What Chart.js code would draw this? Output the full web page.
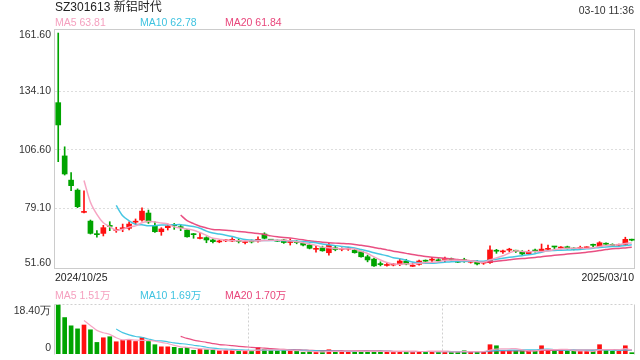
<!DOCTYPE html>
<html><head><meta charset="utf-8">
<script src="https://cdn.jsdelivr.net/npm/chart.js@4.4.1/dist/chart.umd.min.js"></script>
<style>
body{margin:0;width:640px;height:360px;overflow:hidden;background:#fff;font-family:"Liberation Sans",Arial,"Noto Sans CJK SC",sans-serif;}
.t{position:absolute;white-space:nowrap;font-size:10.5px;line-height:12px;z-index:2;}
canvas{position:absolute;left:0;}
</style></head><body>
<canvas id="k" width="640" height="282" style="top:0"></canvas>
<canvas id="v" width="640" height="70" style="top:290px"></canvas>
<div class="t" style="left:55px;top:0px;font-size:12px;line-height:15px;color:#222">SZ301613 新铝时代</div>
<div class="t" style="right:6px;top:4px;color:#333">03-10 11:36</div>
<div class="t" style="left:55px;top:16px;color:#f5a0bf">MA5 63.81</div>
<div class="t" style="left:140px;top:16px;color:#3fc3e0">MA10 62.78</div>
<div class="t" style="left:225px;top:16px;color:#e8467b">MA20 61.84</div>
<div class="t" style="left:55px;top:271px;color:#222">2024/10/25</div>
<div class="t" style="right:6px;top:271px;color:#222">2025/03/10</div>
<div class="t" style="left:55px;top:289px;color:#f5a0bf">MA5 1.51万</div>
<div class="t" style="left:140px;top:289px;color:#3fc3e0">MA10 1.69万</div>
<div class="t" style="left:225px;top:289px;color:#e8467b">MA20 1.70万</div>
<script>
// ---- data ----
const openP = [128.8,103.7,92.3,87.6,77.1,73.0,67.0,67.2,70.9,68.6,69.4,69.6,72.5,73.5,76.8,70.8,68.0,69.9,71.1,70.3,
68.8,67.0,64.8,65.2,64.1,63.2,63.7,63.6,63.6,62.9,63.5,63.6,66.9,64.2,63.8,64.1,62.9,63.2,62.5,61.7,
59.7,60.4,58.1,60.4,59.7,59.8,59.3,58.6,56.2,55.1,52.8,52.1,52.3,52.6,54.2,51.7,52.6,54.4,54.6,54.6,
54.9,55.0,54.2,54.5,53.6,53.9,53.2,53.4,59.1,58.5,59.3,59.0,58.6,57.6,59.2,58.9,59.7,61.0,60.3,60.9,
60.1,60.1,60.4,61.8,60.9,62.4,62.0,61.6,62.0,64.3];
const highP = [161.6,108.0,95.8,88.2,87.3,73.5,68.5,71.0,72.7,70.1,71.6,72.7,74.0,79.3,78.2,72.7,69.9,71.6,71.9,71.3,
69.1,67.2,67.5,65.6,64.6,64.1,64.3,65.2,64.6,63.6,64.1,65.6,67.5,64.4,64.1,64.4,64.6,63.8,63.0,62.2,
61.2,61.2,62.5,61.2,60.4,60.6,59.8,58.9,57.0,55.6,53.8,53.3,53.1,55.1,55.0,53.3,54.6,54.7,55.9,55.3,
56.0,55.6,54.7,55.5,54.2,54.4,54.0,61.3,59.7,59.4,60.2,59.3,59.1,59.3,59.8,62.2,61.7,61.1,61.0,61.2,
60.5,61.2,60.9,62.2,63.3,62.7,62.3,62.2,65.4,64.5];
const lowP = [101.0,94.7,87.3,79.3,76.9,66.9,65.4,66.0,68.5,67.7,68.0,68.8,71.6,73.0,71.9,67.7,66.3,68.8,69.1,68.5,
65.4,64.9,64.6,62.8,62.7,62.8,63.3,63.3,62.7,62.3,62.7,63.1,64.6,63.8,63.3,62.5,61.7,62.3,61.3,59.9,
58.4,58.8,57.0,59.0,59.0,59.2,57.9,56.0,53.8,51.7,51.9,51.8,51.9,52.0,52.4,51.6,52.2,53.6,53.4,53.9,
53.9,54.2,53.4,53.6,53.2,52.4,52.6,53.1,57.8,57.8,58.5,58.2,57.2,57.3,58.3,58.4,59.3,59.8,59.9,59.8,
59.4,59.6,60.1,61.0,60.6,61.6,61.0,61.2,61.4,63.7];
const closeP = [118.3,95.2,89.7,79.8,77.5,67.2,66.6,69.9,70.5,69.0,69.8,71.6,72.9,77.7,72.6,68.0,69.3,70.7,70.8,69.9,
65.6,66.6,65.1,64.1,63.3,63.4,63.9,64.4,63.4,63.1,63.2,64.4,64.9,64.0,63.5,62.9,63.1,62.9,61.7,60.2,
59.9,59.0,61.6,59.6,59.9,59.9,58.1,56.2,54.7,51.9,52.5,52.3,52.5,54.2,52.8,51.9,54.2,54.1,54.8,54.3,
55.1,54.7,53.6,54.3,53.8,52.8,53.5,59.4,58.8,58.7,59.5,58.8,57.5,58.5,58.9,59.8,59.9,60.8,60.5,60.0,
59.8,60.3,60.6,61.6,62.8,62.1,61.3,61.8,64.4,64.0];
// volume in 万
const volume = [18.4,13.7,10.6,9.45,10.9,9.1,4.35,6.1,6.5,4.6,5.1,5.1,4.7,6.2,4.7,3.5,2.7,2.7,2.5,2.1,
2.5,1.4,1.7,1.6,1.4,1.2,1.4,1.4,1.2,1.2,1.1,2.4,1.7,1.5,1.2,1.4,1.4,1.0,0.6,0.9,
0.6,1.0,1.6,1.0,0.9,1.0,0.9,1.0,0.9,1.0,0.9,0.9,0.9,1.0,0.9,0.9,1.0,0.9,1.0,0.75,
0.75,0.75,0.9,1.2,0.75,0.9,0.9,3.5,3.1,1.2,1.2,1.2,1.2,1.2,1.0,3.1,1.6,1.4,1.5,1.0,
1.0,1.0,1.1,1.0,3.5,1.5,1.0,1.0,3.1,0.5];
const priceTicks = [51.60, 79.10, 106.60, 134.10, 161.60];
const volTicks = [0, 18.40];
const categories = openP.map((_, i) => 'd' + (i + 1));

// ---- styles ----
const UP = '#ff1010', DOWN = '#00a400';
const C5 = 'rgba(246,160,192,0.95)', C10 = 'rgba(60,195,224,0.95)', C20 = 'rgba(232,70,123,0.95)';
const FONT = '"Liberation Sans", Arial, sans-serif';

function ma(arr, n) {
  return arr.map((_, i) => i < n - 1 ? null : arr.slice(i - n + 1, i + 1).reduce((a, b) => a + b, 0) / n);
}
const candleColor = closeP.map((c, i) => c >= openP[i] ? UP : DOWN);

function framePlugin(opts) {
  return {
    id: 'frame' + opts.name,
    beforeDatasetsDraw(chart) {
      const {ctx, chartArea: a} = chart;
      const L = Math.round(a.left) - 0.5, R = Math.round(a.right) - 0.5;
      const T = Math.round(a.top) + 0.5, B = Math.round(a.bottom) + 0.5;
      ctx.save();
      ctx.lineWidth = 1;
      if (opts.box) {
        ctx.strokeStyle = '#cccccc';
        ctx.strokeRect(L, T, R - L, B - T);
      } else {
        ctx.strokeStyle = '#cccccc';
        ctx.beginPath(); ctx.moveTo(L, T); ctx.lineTo(L, B); ctx.moveTo(R, T); ctx.lineTo(R, B); ctx.stroke();
        ctx.setLineDash([2, 2]);
        ctx.strokeStyle = '#d0d0d0';
        ctx.beginPath(); ctx.moveTo(L, T); ctx.lineTo(R, T);
        for (let k = 1; k < 3; k++) {
          const x = Math.round(a.left + (a.right - a.left) * k / 3) + 0.5;
          ctx.moveTo(x, T); ctx.lineTo(x, B);
        }
        ctx.stroke();
      }
      ctx.restore();
    }
  };
}

function shiftedLabel(v, isTop, isBottom, text) {
  if (isTop) return ['', text];
  if (isBottom) return [text, ''];
  return text;
}
function fixAxis(s) { s.width = 55; s.paddingTop = 0; s.paddingBottom = 0; }

// ---- price chart ----
new Chart(document.getElementById('k'), {
  data: {
    labels: categories,
    datasets: [
      {type: 'line', data: ma(closeP, 5), borderColor: C5, borderWidth: 1.5, pointRadius: 0, order: 0, tension: 0.3},
      {type: 'line', data: ma(closeP, 10), borderColor: C10, borderWidth: 1.5, pointRadius: 0, order: 0, tension: 0.3},
      {type: 'line', data: ma(closeP, 20), borderColor: C20, borderWidth: 1.5, pointRadius: 0, order: 0, tension: 0.3},
      {type: 'bar', data: lowP.map((l, i) => [l, highP[i]]), backgroundColor: candleColor, barThickness: 1, minBarLength: 1, grouped: false, order: 2},
      {type: 'bar', data: openP.map((o, i) => [o, closeP[i]]), backgroundColor: candleColor, barThickness: 5, minBarLength: 1, grouped: false, order: 1}
    ]
  },
  options: {
    responsive: false, animation: false, events: [],
    layout: {padding: {left: 0, right: 5, top: 29, bottom: 14}},
    plugins: {legend: {display: false}, tooltip: {enabled: false}},
    scales: {
      x: {type: 'category', offset: true, display: false},
      y: {
        min: 50.9, max: 163.5,
        afterBuildTicks: s => { s.ticks = priceTicks.map(v => ({value: v})); },
        afterFit: fixAxis,
        border: {display: false, dash: [2, 2]},
        grid: {drawTicks: false, color: c => (c.tick && (c.tick.value === priceTicks[0] || c.tick.value === priceTicks[priceTicks.length - 1])) ? 'rgba(0,0,0,0)' : '#dddddd'},
        ticks: {
          padding: 4, color: '#333',
          font: c => ({family: FONT, size: 10.5,
            lineHeight: c.tick && c.tick.value === priceTicks[priceTicks.length - 1] ? '4px' :
                        c.tick && c.tick.value === priceTicks[0] ? '6px' : 1.2}),
          callback: v => shiftedLabel(v, v === priceTicks[priceTicks.length - 1], v === priceTicks[0], v.toFixed(2))
        }
      }
    }
  },
  plugins: [framePlugin({name: 'k', box: true})]
});

// ---- volume chart ----
new Chart(document.getElementById('v'), {
  data: {
    labels: categories,
    datasets: [
      {type: 'line', data: ma(volume, 5), borderColor: C5, borderWidth: 1.2, pointRadius: 0, order: 0, tension: 0.3},
      {type: 'line', data: ma(volume, 10), borderColor: C10, borderWidth: 1.2, pointRadius: 0, order: 0, tension: 0.3},
      {type: 'line', data: ma(volume, 20), borderColor: C20, borderWidth: 1.2, pointRadius: 0, order: 0, tension: 0.3},
      {type: 'bar', data: volume, backgroundColor: candleColor, barThickness: 4, minBarLength: 1, order: 1}
    ]
  },
  options: {
    responsive: false, animation: false, events: [],
    layout: {padding: {left: 0, right: 5, top: 14, bottom: 6}},
    plugins: {legend: {display: false}, tooltip: {enabled: false}},
    scales: {
      x: {type: 'category', offset: true, display: false},
      y: {
        min: 0, max: 18.8,
        afterBuildTicks: s => { s.ticks = volTicks.map(v => ({value: v})); },
        afterFit: fixAxis,
        border: {display: false},
        grid: {display: false, drawTicks: false},
        ticks: {
          padding: 4, color: '#333',
          font: c => ({family: FONT, size: 10.5,
            lineHeight: c.tick && c.tick.value === volTicks[1] ? '13px' : c.tick && c.tick.value === volTicks[0] ? '12px' : 1.2}),
          callback: v => shiftedLabel(v, v === volTicks[1], v === volTicks[0], v === 0 ? '0' : v.toFixed(2) + '万')
        }
      }
    }
  },
  plugins: [framePlugin({name: 'v', box: false})]
});
</script>
</body></html>
